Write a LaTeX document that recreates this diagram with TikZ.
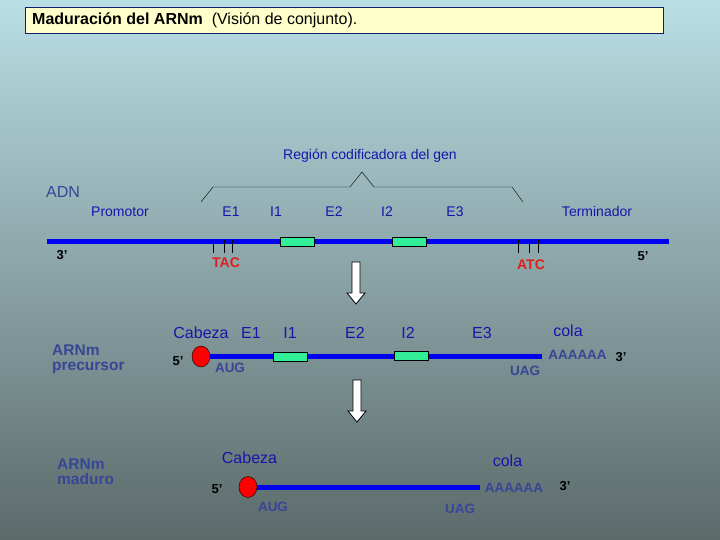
\documentclass[tikz,border=0pt]{standalone}
\usepackage{fontspec}
\setmainfont{Liberation Sans}
\usetikzlibrary{shapes.geometric}

\definecolor{bgtop}{RGB}{185,222,228}
\definecolor{bgbot}{RGB}{92,106,106}
\definecolor{lblblue}{RGB}{22,22,170}
\definecolor{nameblue}{RGB}{55,70,150}
\definecolor{strandblue}{RGB}{0,0,240}
\definecolor{intgreen}{RGB}{50,238,150}
\definecolor{codonred}{RGB}{225,30,30}
\definecolor{titlefill}{RGB}{255,255,204}
\definecolor{titleblue}{RGB}{20,30,110}

\begin{document}
\begin{tikzpicture}[
    x=1pt,y=-1pt,
    lbl/.style={font=\fontsize{14}{16}\selectfont,text=lblblue,inner sep=0pt},
    big/.style={font=\fontsize{16}{18}\selectfont,text=lblblue,inner sep=0pt},
    rnalbl/.style={font=\bfseries\fontsize{15.5}{15}\selectfont,text=nameblue,
                 inner sep=0pt,align=left,anchor=north west},
    seq/.style={font=\bfseries\fontsize{13.5}{15}\selectfont,text=nameblue,inner sep=0pt},
    prime/.style={font=\bfseries\fontsize{13}{15}\selectfont,inner sep=0pt},
    codon/.style={font=\bfseries\fontsize{14}{16}\selectfont,text=codonred,inner sep=0pt},
    strand/.style={line width=5pt,draw=strandblue},
    intron/.style={draw,fill=intgreen,minimum width=34pt,minimum height=9pt,inner sep=0pt},
    capdot/.style={ellipse,draw,fill=red,minimum width=18pt,minimum height=21pt,inner sep=0pt},
    blockarr/.style={draw,fill=white,line width=0.8pt}
  ]
  \useasboundingbox (0,0) rectangle (720,540);
  \shade[top color=bgtop,bottom color=bgbot] (0,0) rectangle (720,540);

  % title
  \node[draw=titleblue,fill=titlefill,line width=0.8pt,minimum width=638pt,
        minimum height=26pt,inner sep=0pt] (titlebox) at (344,20) {};
  \node[anchor=west,inner sep=0pt,font=\fontsize{16}{18}\selectfont] (title) at (32,20)
       {\textbf{Maduración del ARNm}\ \ (Visión de conjunto).};

  % ADN
  \node[lbl] (region) at (370,156) {Región codificadora del gen};
  \draw (201,202) -- (213,187) -- (350,187) -- (362,172) -- (374,187) -- (512,187) -- (523,202);
  \node[big,text=nameblue] (adn) at (63,192) {ADN};
  \node[lbl] (promotor) at (120,212) {Promotor};
  \node[lbl] (e1) at (231,212) {E1};
  \node[lbl] (i1) at (276,212) {I1};
  \node[lbl] (e2) at (334,212) {E2};
  \node[lbl] (i2) at (387,212) {I2};
  \node[lbl] (e3) at (455,212) {E3};
  \node[lbl] (term) at (597,211) {Terminador};

  \coordinate (dna3) at (47,241.5);
  \coordinate (dna5) at (669,241.5);
  \draw[strand] (dna3) -- (dna5);
  \node[intron] (dnaI1) at (297.5,241.5) {};
  \node[intron] (dnaI2) at (409,241.5) {};
  \node[prime] (p3a) at (62,255) {3'};
  \node[prime] (p5a) at (643,256) {5'};
  \foreach \x in {213,224,232,518,529,538}
    \draw (\x,240) -- (\x,253);
  \node[codon] (tac) at (226,263) {TAC};
  \node[codon] (atc) at (531,265) {ATC};

  % block arrows
  \foreach \x/\y in {356/262,357/380}
    \draw[blockarr] (\x-4,\y) -- (\x+4,\y) -- (\x+4,\y+31) -- (\x+9,\y+31)
      -- (\x,\y+42) -- (\x-9,\y+31) -- (\x-4,\y+31) -- cycle;

  % ARNm precursor
  \node[rnalbl] (pre) at (52,345) {ARNm\\precursor};
  \node[big] (precab) at (201,333) {Cabeza};
  \node[big] (pree1) at (251,333) {E1};
  \node[big] (prei1) at (290,333) {I1};
  \node[big] (pree2) at (355,333) {E2};
  \node[big] (prei2) at (408,333) {I2};
  \node[big] (pree3) at (482,333) {E3};
  \node[big] (precola) at (568,331) {cola};
  \node[capdot] (cap1) at (201,356.5) {};
  \coordinate (preend) at (542,356.5);
  \draw[strand] (cap1.east) -- (preend);
  \node[intron] (preI1) at (290.5,356.5) {};
  \node[intron] (preI2) at (411,356) {};
  \node[prime] (p5b) at (178,361) {5'};
  \node[seq] (aug1) at (230,368) {AUG};
  \node[seq] (uag1) at (525,371) {UAG};
  \node[seq] (poly1) at (577.5,355) {AAAAAA};
  \node[prime] (p3b) at (621,357) {3'};

  % ARNm maduro
  \node[rnalbl] (mad) at (57,459) {ARNm\\maduro};
  \node[big] (madcab) at (249.5,458) {Cabeza};
  \node[big] (madcola) at (507.5,461) {cola};
  \node[capdot] (cap2) at (248,487) {};
  \coordinate (madend) at (480,487.5);
  \draw[strand] (cap2.east) -- (cap2.east -| madend);
  \node[prime] (p5c) at (217,489) {5'};
  \node[seq] (aug2) at (273,507) {AUG};
  \node[seq] (uag2) at (460,509) {UAG};
  \node[seq] (poly2) at (514,488) {AAAAAA};
  \node[prime] (p3c) at (565,486) {3'};
\end{tikzpicture}
\end{document}
